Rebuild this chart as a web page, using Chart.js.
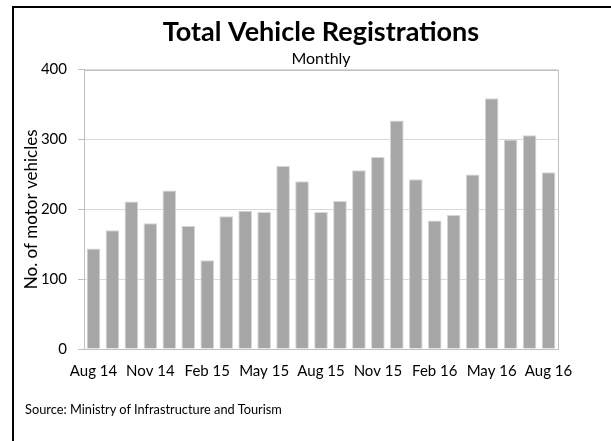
<!DOCTYPE html>
<html>
<head>
<meta charset="utf-8">
<script src="https://cdn.jsdelivr.net/npm/chart.js@4/dist/chart.umd.min.js"></script>
<style>
  body { margin: 0; background: #fff; }
  #wrap { position: relative; width: 611px; height: 441px; overflow: hidden; }
  #marco { position: absolute; left: 12px; top: 6px; right: -10px; bottom: -10px; border-left: 2px solid #000; border-top: 2px solid #000; }
  #plot { position: absolute; left: 0; top: 0; }
  #fuente { position: absolute; left: 25px; top: 401px; font-family: Lato, sans-serif; font-size: 12.8px; color: #000; }
</style>
</head>
<body>
<div id="wrap">
  <div id="marco"></div>
  <canvas id="plot" width="611" height="441"></canvas>
  <div id="fuente">Source: Ministry of Infrastructure and Tourism</div>
</div>
<script>
// Meses (una barra por mes)
let meses = ['Aug 14','Sep 14','Oct 14','Nov 14','Dec 14','Jan 15','Feb 15','Mar 15','Apr 15','May 15','Jun 15','Jul 15',
  'Aug 15','Sep 15','Oct 15','Nov 15','Dec 15','Jan 16','Feb 16','Mar 16','Apr 16','May 16','Jun 16','Jul 16','Aug 16'];

// Registros de vehiculos por mes
let registros = [144, 170, 211, 180, 227, 176, 127, 190, 198, 196, 262, 240,
  196, 212, 256, 275, 327, 243, 184, 192, 250, 359, 300, 306, 253];

// Valores del eje y
let ticksY = [0, 100, 200, 300, 400];

let fuenteTexto = 'Lato, sans-serif';

// Borde gris del area del grafico
let bordeArea = {
  id: 'bordeArea',
  beforeDatasetsDraw(chart) {
    let a = chart.chartArea;
    let ctx = chart.ctx;
    ctx.save();
    ctx.strokeStyle = '#c0c0c0';
    ctx.lineWidth = 1;
    ctx.strokeRect(Math.round(a.left) + 0.5, Math.round(a.top) + 0.5, Math.round(a.right - a.left), Math.round(a.bottom - a.top));
    ctx.restore();
  }
};

let plotRef = document.getElementById('plot');

let config = {
  type: 'bar',
  data: {
    labels: meses,
    datasets: [
      {
        label: 'Registrations',
        data: registros,
        backgroundColor: '#a6a6a6',
        borderColor: '#d6d6d6',
        borderWidth: 1,
        categoryPercentage: 1,
        barPercentage: 0.72
      }
    ]
  },
  options: {
    responsive: false,
    animation: false,
    layout: { padding: { top: 0, right: 53, bottom: 52, left: 0 } },
    plugins: {
      legend: { display: false },
      tooltip: { enabled: false },
      title: {
        display: true,
        text: 'Total Vehicle Registrations',
        fullSize: false,
        color: '#000',
        font: { family: fuenteTexto, size: 27, weight: 'bold' },
        padding: { top: 16, bottom: 0 }
      },
      subtitle: {
        display: true,
        text: 'Monthly',
        fullSize: false,
        color: '#000',
        font: { family: fuenteTexto, size: 16 },
        padding: { top: 1, bottom: 1 }
      }
    },
    scales: {
      x: {
        afterFit: s => { s.height = 40; },
        grid: { display: false },
        border: { display: true, color: '#c0c0c0' },
        ticks: {
          autoSkip: false,
          maxRotation: 0,
          padding: 5,
          color: '#000',
          font: { family: fuenteTexto, size: 15 },
          callback: function(val, i) {
            return i % 3 === 0 ? this.getLabelForValue(val) : '';
          }
        }
      },
      y: {
        min: 0,
        max: 400,
        afterFit: s => { s.width = 84; },
        afterBuildTicks: s => { s.ticks = ticksY.map(v => ({ value: v })); },
        grid: { color: '#d9d9d9', tickLength: 6, tickColor: '#c0c0c0' },
        border: { display: true, color: '#c0c0c0' },
        ticks: {
          padding: 11,
          color: '#000',
          font: { family: fuenteTexto, size: 15 }
        },
        title: {
          display: true,
          text: 'No. of motor vehicles',
          color: '#000',
          font: { family: fuenteTexto, size: 17 },
          padding: { top: 21, bottom: 0 }
        }
      }
    }
  },
  plugins: [bordeArea]
};

let chart1 = new Chart(plotRef, config);
</script>
</body>
</html>
